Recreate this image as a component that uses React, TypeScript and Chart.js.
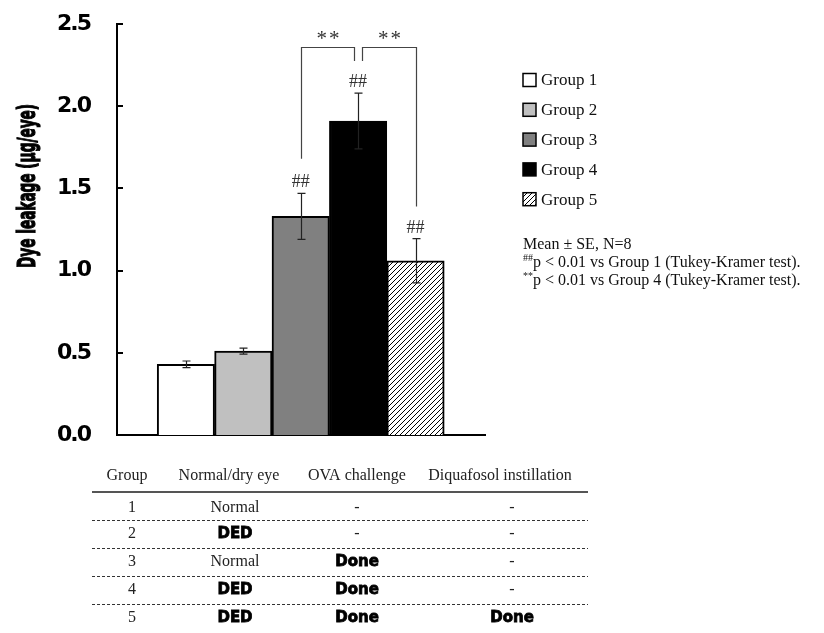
import React, { useEffect, useRef } from 'react';
import { Chart, registerables } from 'chart.js';

Chart.register(...registerables);

// ---- data ----
const groups = ['Group 1', 'Group 2', 'Group 3', 'Group 4', 'Group 5'];
const groupIndex = [0, 1, 2, 3, 4];
const means = [0.43, 0.51, 1.33, 1.91, 1.06];
const errors = [0.02, 0.018, 0.14, 0.17, 0.135];
const barFills = ['#ffffff', '#c0c0c0', '#808080', '#000000', 'hatch'];
const yTickValues = [0, 0.5, 1, 1.5, 2, 2.5];
const yTitle = 'Dye leakage (μg/eye)';
const vsGroup1Marks = ['', '', '##', '##', '##'];
const referenceGroup = 3;
const comparisons = [
  { from: 2, to: 3, fromBase: 1.68, toBase: 2.275, top: 2.36, label: '**' },
  { from: 3, to: 4, fromBase: 2.275, toBase: 1.39, top: 2.36, label: '**' },
];
const noteLines = [
  { sup: '', text: 'Mean ± SE, N=8' },
  { sup: '##', text: 'p < 0.01 vs Group 1 (Tukey-Kramer test).' },
  { sup: '**', text: 'p < 0.01 vs Group 4 (Tukey-Kramer test).' },
];
const tableHeader = ['Group', 'Normal/dry eye', 'OVA challenge', 'Diquafosol instillation'];
const tableRows = [
  ['1', 'Normal', '-', '-'],
  ['2', 'DED', '-', '-'],
  ['3', 'Normal', 'Done', '-'],
  ['4', 'DED', 'Done', '-'],
  ['5', 'DED', 'Done', 'Done'],
];
const boldCells = ['DED', 'Done'];

// ---- layout / style constants ----
const SERIF = '"Liberation Serif", "Times New Roman", serif';
const headerX = [127, 229, 357, 500];
const bodyX = [132, 235, 357, 512];
const headerY = 476;
const rowY = [508, 534, 562, 590, 618];
const ruleY = [492, 520, 548, 576, 604];
const tableLeft = 92;
const tableRight = 588;

export default function App() {
  const ref = useRef<HTMLCanvasElement>(null);

  useEffect(() => {
    const canvas = ref.current!;
    const tile = document.createElement('canvas');
    tile.width = 5;
    tile.height = 5;
    const t = tile.getContext('2d')!;
    t.fillStyle = '#ffffff';
    t.fillRect(0, 0, 5, 5);
    t.strokeStyle = '#000000';
    t.lineWidth = 1;
    t.beginPath();
    t.moveTo(-1, 6);
    t.lineTo(6, -1);
    t.moveTo(-1, 1);
    t.lineTo(1, -1);
    t.moveTo(4, 6);
    t.lineTo(6, 4);
    t.stroke();
    const hatch = canvas.getContext('2d')!.createPattern(tile, 'repeat')!;
    const fillOf = (f: string) => (f === 'hatch' ? hatch : f);

    const overlay = {
      id: 'overlay',
      beforeDraw(chart: any) {
        chart.ctx.letterSpacing = '-2px';
      },
      beforeDatasetsDraw(chart: any) {
        chart.ctx.letterSpacing = '0px';
      },
      afterDraw(chart: any) {
        const { ctx, chartArea } = chart;
        const xs = chart.scales.x;
        const ys = chart.scales.y;
        const px = (i: number) => xs.getPixelForValue(i);
        const py = (v: number) => ys.getPixelForValue(v);
        ctx.save();
        ctx.letterSpacing = '0px';

        // inward tick marks
        ctx.strokeStyle = '#000';
        ctx.lineWidth = 2;
        yTickValues.forEach((v) => {
          if (v === 0) return;
          const yy = Math.round(py(v));
          ctx.beginPath();
          ctx.moveTo(chartArea.left, yy);
          ctx.lineTo(chartArea.left + 6, yy);
          ctx.stroke();
        });

        // error bars
        ctx.strokeStyle = '#222';
        ctx.lineWidth = 1.2;
        means.forEach((m, i) => {
          const cx = Math.round(px(i)) + 0.5;
          const top = py(m + errors[i]);
          const bot = py(m - errors[i]);
          ctx.beginPath();
          ctx.moveTo(cx, top);
          ctx.lineTo(cx, bot);
          ctx.moveTo(cx - 4, top);
          ctx.lineTo(cx + 4, top);
          ctx.moveTo(cx - 4, bot);
          ctx.lineTo(cx + 4, bot);
          ctx.stroke();
        });

        // ## marks
        ctx.fillStyle = '#333';
        ctx.font = `18px ${SERIF}`;
        ctx.textAlign = 'center';
        ctx.textBaseline = 'alphabetic';
        vsGroup1Marks.forEach((s, i) => {
          if (!s) return;
          ctx.fillText(s, px(i), py(means[i] + errors[i]) - 6);
        });

        // brackets
        ctx.strokeStyle = '#444';
        ctx.lineWidth = 1.2;
        comparisons.forEach((c) => {
          const shift = (i: number, other: number) => (i === referenceGroup ? (other < i ? -4 : 4) : 0);
          const x1 = Math.round(px(c.from) + shift(c.from, c.to)) + 0.5;
          const x2 = Math.round(px(c.to) + shift(c.to, c.from)) + 0.5;
          const yt = Math.round(py(c.top)) + 0.5;
          ctx.beginPath();
          ctx.moveTo(x1, py(c.fromBase));
          ctx.lineTo(x1, yt);
          ctx.lineTo(x2, yt);
          ctx.lineTo(x2, py(c.toBase));
          ctx.stroke();
          ctx.fillStyle = '#333';
          ctx.font = `21px ${SERIF}`;
          ctx.textAlign = 'center';
          ctx.letterSpacing = '2px';
          ctx.fillText(c.label, (x1 + x2) / 2 + 1, yt - 3);
          ctx.letterSpacing = '0px';
        });

        // y title
        ctx.save();
        ctx.translate(29, 186);
        ctx.rotate(-Math.PI / 2);
        ctx.font = 'bold 24px "DejaVu Sans"';
        const tw = ctx.measureText(yTitle).width;
        ctx.scale(164 / tw, 1);
        ctx.fillStyle = '#000';
        ctx.strokeStyle = '#000';
        ctx.lineWidth = 1.2;
        ctx.textAlign = 'center';
        ctx.textBaseline = 'middle';
        ctx.fillText(yTitle, 0, 0);
        ctx.strokeText(yTitle, 0, 0);
        ctx.restore();

        // legend
        ctx.textAlign = 'left';
        ctx.textBaseline = 'middle';
        groups.forEach((g, i) => {
          const cy = 80 + i * 29.8;
          ctx.fillStyle = fillOf(barFills[i]);
          ctx.fillRect(523, cy - 6.5, 13, 13);
          ctx.strokeStyle = '#000';
          ctx.lineWidth = 1.5;
          ctx.strokeRect(523, cy - 6.5, 13, 13);
          ctx.fillStyle = '#111';
          ctx.font = `17px ${SERIF}`;
          ctx.fillText(g, 541, cy + 1);
        });

        // notes
        noteLines.forEach((n, i) => {
          const cy = 245 + i * 18;
          let x = 523;
          ctx.fillStyle = '#111';
          if (n.sup) {
            ctx.font = `10px ${SERIF}`;
            ctx.fillText(n.sup, x, cy - 5);
            x += ctx.measureText(n.sup).width;
          }
          ctx.font = `16px ${SERIF}`;
          ctx.fillText(n.text, x, cy);
        });

        // table
        ctx.textAlign = 'center';
        ctx.textBaseline = 'middle';
        ctx.fillStyle = '#222';
        ctx.font = `16px ${SERIF}`;
        tableHeader.forEach((h, j) => ctx.fillText(h, headerX[j], headerY));
        ctx.strokeStyle = '#555';
        ctx.lineWidth = 2;
        ctx.beginPath();
        ctx.moveTo(tableLeft, ruleY[0]);
        ctx.lineTo(tableRight, ruleY[0]);
        ctx.stroke();
        ctx.strokeStyle = '#333';
        ctx.lineWidth = 1;
        ctx.setLineDash([3, 2]);
        ruleY.slice(1).forEach((yy) => {
          ctx.beginPath();
          ctx.moveTo(tableLeft, yy + 0.5);
          ctx.lineTo(tableRight, yy + 0.5);
          ctx.stroke();
        });
        ctx.setLineDash([]);
        tableRows.forEach((row, r) => {
          row.forEach((cell, j) => {
            if (boldCells.includes(cell)) {
              ctx.fillStyle = '#000';
              ctx.strokeStyle = '#000';
              ctx.lineWidth = 0.8;
              ctx.font = 'bold 15px "DejaVu Sans"';
              ctx.fillText(cell, bodyX[j], rowY[r]);
              ctx.strokeText(cell, bodyX[j], rowY[r]);
            } else {
              ctx.fillStyle = '#222';
              ctx.font = `16px ${SERIF}`;
              ctx.fillText(cell, bodyX[j], rowY[r]);
            }
          });
        });

        ctx.restore();
      },
    };

    const chart = new Chart(canvas, {
      type: 'bar',
      data: {
        datasets: [
          {
            label: 'Dye leakage',
            data: groupIndex.map((i) => ({ x: i, y: means[i] })),
            backgroundColor: barFills.map(fillOf),
            borderColor: '#000',
            borderWidth: 2,
            barPercentage: 1,
            categoryPercentage: 1,
          } as any,
        ],
      },
      options: {
        animation: false,
        responsive: true,
        maintainAspectRatio: false,
        layout: { padding: { left: 0, top: 24, right: 339, bottom: 198 } },
        plugins: { legend: { display: false }, tooltip: { enabled: false } },
        scales: {
          x: {
            type: 'linear',
            min: -1.2,
            max: 5.21,
            offset: false,
            ticks: { display: false },
            grid: { display: false, drawTicks: false },
            border: { display: true, color: '#000', width: 2 },
            afterFit(s: any) {
              s.height = 0;
            },
          },
          y: {
            min: 0,
            max: 2.5,
            afterBuildTicks(s: any) {
              s.ticks = yTickValues.map((v) => ({ value: v }));
            },
            ticks: {
              callback: (v: any) => Number(v).toFixed(1),
              font: { family: 'DejaVu Sans', weight: 'bold', size: 22 },
              color: '#000',
              padding: 27,
            },
            grid: { display: false, drawTicks: false },
            border: { display: true, color: '#000', width: 2 },
            afterFit(s: any) {
              s.width = 117;
              s.paddingTop = 10;
              s.paddingBottom = 10;
            },
          },
        },
      } as any,
      plugins: [overlay],
    });
    return () => chart.destroy();
  }, []);

  return (
    <div style={{ position: 'fixed', left: 0, top: 0, width: 824, height: 633, background: '#fff' }}>
      <canvas ref={ref} />
    </div>
  );
}
